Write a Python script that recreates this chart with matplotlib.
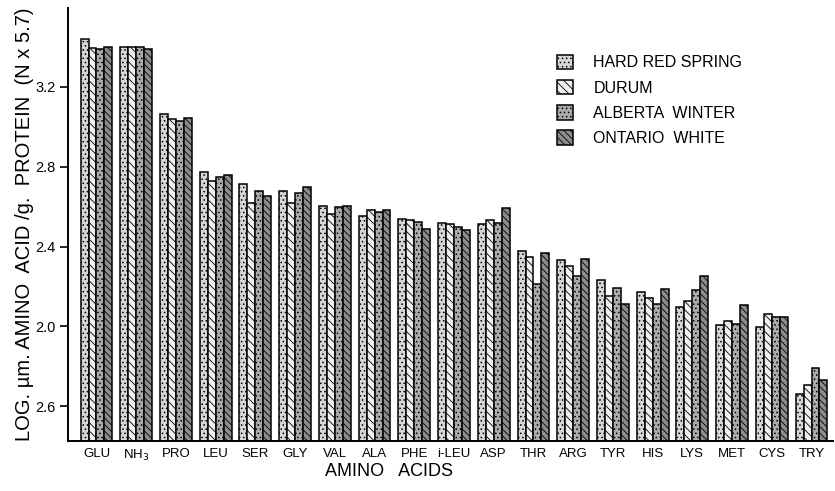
import matplotlib
matplotlib.use("Agg")
import matplotlib.pyplot as plt
import numpy as np

plt.rcParams['font.family'] = ['Liberation Sans', 'DejaVu Sans']
plt.rcParams['hatch.linewidth'] = 0.6

amino_acids = ["GLU", "NH$_3$", "PRO", "LEU", "SER", "GLY", "VAL", "ALA", "PHE", "i-LEU",
               "ASP", "THR", "ARG", "TYR", "HIS", "LYS", "MET", "CYS", "TRY"]
series_names = ["HARD RED SPRING", "DURUM", "ALBERTA  WINTER", "ONTARIO  WHITE"]

hard_red_spring = [3.439, 3.399, 3.065, 2.774, 2.712, 2.677, 2.602, 2.555, 2.540, 2.516,
                   2.511, 2.379, 2.331, 2.231, 2.173, 2.098, 2.005, 1.995, 1.659]
durum           = [3.396, 3.399, 3.038, 2.727, 2.618, 2.618, 2.562, 2.582, 2.531, 2.511,
                   2.533, 2.346, 2.304, 2.152, 2.142, 2.127, 2.027, 2.063, 1.707]
alberta_winter  = [3.389, 3.399, 3.031, 2.747, 2.678, 2.668, 2.597, 2.575, 2.524, 2.498,
                   2.516, 2.212, 2.251, 2.190, 2.112, 2.182, 2.011, 2.047, 1.792]
ontario_white   = [3.399, 3.389, 3.045, 2.757, 2.652, 2.697, 2.603, 2.583, 2.488, 2.481,
                   2.593, 2.369, 2.339, 2.110, 2.186, 2.251, 2.105, 2.045, 1.732]

ytick_values = [1.6, 2.0, 2.4, 2.8, 3.2]
ytick_labels = ["2.6", "2.0", "2.4", "2.8", "3.2"]

series = [hard_red_spring, durum, alberta_winter, ontario_white]
faces = ["#d6d6d6", "#f0f0f0", "#ababab", "#8c8c8c"]
hatches = ["....", "\\\\\\\\", "....", "\\\\\\\\\\"]

fig = plt.figure(figsize=(8.35, 4.91), dpi=100)
ax = fig.add_axes([68/835, 1-441/491, (833-68)/835, (441-8)/491])

base = 1.425
x = np.arange(len(amino_acids))
w = 0.2
handles = []
for k, vals in enumerate(series):
    vals = np.array(vals)
    b = ax.bar(x + (k - 1.5) * w, vals - base, width=w, bottom=base,
               facecolor=faces[k], edgecolor="black", linewidth=1.1,
               hatch=hatches[k], label=series_names[k])
    handles.append(b)

ax.set_xlim(-0.717, 18.54)
ax.set_ylim(base, 3.596)
ax.set_yticks(ytick_values)
ax.set_yticklabels(ytick_labels, fontsize=10.5)
ax.set_xticks(x)
ax.set_xticklabels(amino_acids, fontsize=9.5)
ax.tick_params(axis='x', length=0, pad=5)
ax.tick_params(axis='y', direction='out', length=6, width=1.2, pad=3)
for s in ["top", "right"]:
    ax.spines[s].set_visible(False)
for s in ["left", "bottom"]:
    ax.spines[s].set_linewidth(1.4)

ax.set_ylabel("LOG. µm. AMINO  ACID /g.  PROTEIN  (N x 5.7)", fontsize=14.5)
ax.yaxis.set_label_coords(-0.045, 0.5)
ax.set_xlabel("AMINO   ACIDS", fontsize=13)
ax.xaxis.set_label_coords(0.42, -0.05)

leg = ax.legend(handles=handles, loc="upper left", bbox_to_anchor=(0.62, 0.925),
                frameon=False, fontsize=11.5, handlelength=1.0, handleheight=1.0,
                labelspacing=0.6, handletextpad=1.3)

fig.savefig("out.png", dpi=100)
